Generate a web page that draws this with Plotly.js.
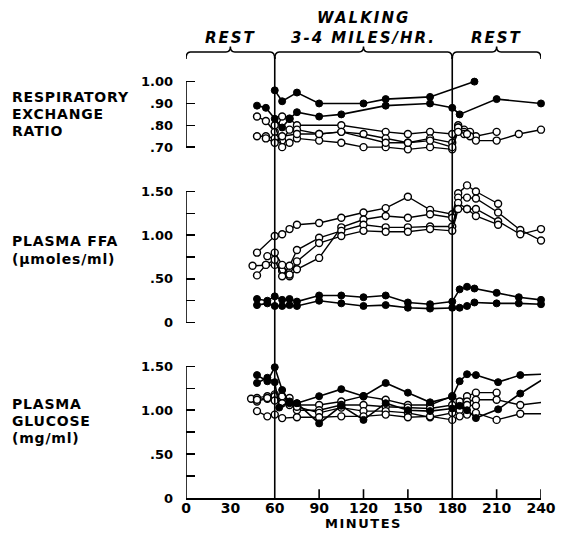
<!DOCTYPE html>
<html><head><meta charset="utf-8">
<script src="https://cdn.plot.ly/plotly-3.0.1.min.js"></script>
<style>html,body{margin:0;padding:0;background:#fff}#chart{width:561px;height:533px}</style>
</head><body><div id="chart"></div>
<script>
// ---------- DATA (minutes, values) ----------
// Respiratory exchange ratio
const rerFilledA_t = [60,65,75,90,120,135,165,195];
const rerFilledA_v = [0.96,0.91,0.95,0.90,0.90,0.92,0.93,1.00];
const rerFilledB_t = [48,54,60,65,70,75,90,105,135,165,180,185,210,240];
const rerFilledB_v = [0.89,0.88,0.83,0.79,0.83,0.86,0.84,0.85,0.89,0.90,0.88,0.85,0.92,0.90];
const rerOpenA_t = [48,54,60,65,70,75,105,135,150,165,180,184,188,192,196,210];
const rerOpenA_v = [0.84,0.82,0.77,0.84,0.83,0.80,0.80,0.77,0.76,0.77,0.76,0.80,0.78,0.77,0.75,0.77];
const rerOpenB_t = [48,54,60,65,70,75,90,105,120,135,150,165,180,184,188,196,210,225,240];
const rerOpenB_v = [0.75,0.75,0.74,0.73,0.78,0.78,0.76,0.77,0.76,0.74,0.72,0.74,0.72,0.79,0.77,0.73,0.73,0.76,0.78];
const rerOpenC_t = [60,65,70,75,90,105,120,135,150,165,180,184,188,192];
const rerOpenC_v = [0.80,0.70,0.72,0.74,0.73,0.72,0.70,0.70,0.69,0.70,0.69,0.79,0.76,0.75];
const rerOpenD_t = [54,60,65,75,90,105,135,150,165,180,184,190];
const rerOpenD_v = [0.74,0.72,0.75,0.76,0.76,0.77,0.72,0.72,0.73,0.70,0.77,0.76];

// Plasma FFA (umoles/ml)
const ffaOpenA_t = [48,60,65,70,75,90,105,120,135,150,165,180,184,190,196,211];
const ffaOpenA_v = [0.80,0.99,1.01,1.07,1.12,1.14,1.20,1.26,1.31,1.44,1.29,1.24,1.48,1.57,1.50,1.36];
const ffaOpenB_t = [45,54,60,65,70,75,90,105,120,135,150,165,180,184,190,196,211,226,240];
const ffaOpenB_v = [0.65,0.66,0.66,0.59,0.53,0.61,0.74,1.09,1.18,1.22,1.20,1.24,1.20,1.43,1.43,1.42,1.26,1.06,0.94];
const ffaOpenC_t = [48,54,60,65,70,75,90,105,120,135,150,165,180,184,190,196,211,226,240];
const ffaOpenC_v = [0.54,0.66,0.72,0.53,0.65,0.83,0.97,1.05,1.12,1.09,1.09,1.10,1.10,1.37,1.30,1.30,1.16,1.01,1.07];
const ffaOpenD_t = [55,60,65,70,75,90,105,120,135,150,165,180,184,190,196,211];
const ffaOpenD_v = [0.76,0.80,0.66,0.55,0.70,0.91,0.99,1.05,1.04,1.04,1.07,1.05,1.30,1.30,1.22,1.12];
const ffaFilled_t = [48,55,60,65,70,75,90,105,120,135,150,165,180,185,190,195,210,225,240];
const ffaFilledA_v = [0.27,0.25,0.30,0.26,0.27,0.24,0.31,0.31,0.29,0.31,0.23,0.21,0.24,0.38,0.41,0.39,0.34,0.29,0.26];
const ffaFilledB_v = [0.20,0.22,0.19,0.19,0.20,0.19,0.25,0.22,0.19,0.20,0.17,0.16,0.17,0.17,0.19,0.23,0.22,0.22,0.21];

// Plasma glucose (mg/ml)
const gluFilledA_t = [48,55,60,65,70,75,90,105,120,135,150,165,180,185,190,196,211,226,241];
const gluFilledA_v = [1.40,1.33,1.49,1.23,1.08,1.08,1.16,1.24,1.16,1.31,1.20,1.09,1.15,1.33,1.41,1.40,1.32,1.40,1.41];
const gluFilledB_t = [48,55,60,63,70,75,90,105,120,135,150,165,180,185,190,196,211,226,241];
const gluFilledB_v = [1.31,1.37,1.32,1.03,1.10,1.08,0.85,1.05,0.89,1.08,1.00,0.99,1.02,1.05,1.00,0.91,1.01,1.19,1.35];
const gluOpenA_t = [44,48,55,60,65,70,75,90,105,120,135,150,165,180,185,190,196,210];
const gluOpenA_v = [1.13,1.14,1.16,1.18,1.14,1.10,1.06,1.06,1.10,1.16,1.12,1.06,1.06,1.16,1.10,1.16,1.20,1.20];
const gluOpenB_t = [48,55,60,65,70,75,90,105,120,135,150,165,180,185,190,196,210,226,241];
const gluOpenB_v = [1.10,1.13,1.16,1.16,1.14,1.00,1.00,1.06,1.06,1.04,1.03,1.02,1.06,1.03,1.10,1.12,1.12,1.06,1.09];
const gluOpenC_t = [48,55,60,65,70,75,90,105,120,135,150,165,180,185,190,196];
const gluOpenC_v = [1.12,1.14,1.11,1.08,1.06,1.04,0.97,1.03,0.99,0.99,0.97,0.92,0.97,1.00,1.06,1.05];
const gluOpenD_t = [48,55,60,65,75,90,105,120,135,150,165,180,185,190,196,210,226,241];
const gluOpenD_v = [0.99,0.93,0.95,0.91,0.92,0.92,0.93,0.93,0.95,0.92,0.93,0.89,0.93,0.95,0.97,0.89,0.96,0.96];

// Tick labels
const xTickVals = [0,30,60,90,120,150,180,210,240];
const xTickText = ['0','30','60','90','120','150','180','210','240'];
const rerTickVals = [0.70,0.80,0.90,1.00];
const rerTickText = ['.70','.80','.90','1.00'];
const concTickVals = [0,0.25,0.5,0.75,1.0,1.25,1.5];
const concTickText = ['0','','.50','','1.00','','1.50'];

// ---------- LAYOUT HELPERS ----------
const L = 186.3, R = 541, W = R - L, H = 498.5;
function px(x){ return (x - L) / W; }
function py(y){ return (H - y) / H; }
function dom(v0,p0,v1,p1,r0,r1){
  const k = (p0 - p1) / (v1 - v0);
  return [py(p0 + (v0 - r0) * k), py(p0 - (r1 - v0) * k)];
}

function filled(t, v, ax){
  return {x:t, y:v, yaxis:ax, type:'scatter', mode:'lines+markers',
    line:{color:'#000', width:1.6},
    marker:{color:'#000', size:7, line:{color:'#000', width:1}},
    cliponaxis:false, hoverinfo:'skip', showlegend:false};
}
function open(t, v, ax){
  return {x:t, y:v, yaxis:ax, type:'scatter', mode:'lines+markers',
    line:{color:'#000', width:1.4},
    marker:{color:'#fff', size:7, line:{color:'#000', width:1.4}},
    cliponaxis:false, hoverinfo:'skip', showlegend:false};
}

const traces = [
  open(rerOpenA_t, rerOpenA_v, 'y'), open(rerOpenB_t, rerOpenB_v, 'y'),
  open(rerOpenC_t, rerOpenC_v, 'y'), open(rerOpenD_t, rerOpenD_v, 'y'),
  filled(rerFilledA_t, rerFilledA_v, 'y'), filled(rerFilledB_t, rerFilledB_v, 'y'),
  open(ffaOpenA_t, ffaOpenA_v, 'y2'), open(ffaOpenB_t, ffaOpenB_v, 'y2'),
  open(ffaOpenC_t, ffaOpenC_v, 'y2'), open(ffaOpenD_t, ffaOpenD_v, 'y2'),
  filled(ffaFilled_t, ffaFilledA_v, 'y2'), filled(ffaFilled_t, ffaFilledB_v, 'y2'),
  open(gluOpenA_t, gluOpenA_v, 'y3'), open(gluOpenB_t, gluOpenB_v, 'y3'),
  open(gluOpenC_t, gluOpenC_v, 'y3'), open(gluOpenD_t, gluOpenD_v, 'y3'),
  filled(gluFilledA_t, gluFilledA_v, 'y3'), filled(gluFilledB_t, gluFilledB_v, 'y3')
];

const tickFont = {family:'DejaVu Sans', size:13, color:'#000', weight:'bold'};
function yax(domain, range, vals, text){
  return {domain:domain, range:range, anchor:'x', tickvals:vals, ticktext:text,
    ticks:'inside', ticklen:9, tickwidth:1.5, tickcolor:'#000',
    showline:false, showgrid:false, zeroline:false, fixedrange:true,
    tickfont:tickFont, ticklabelstandoff:12};
}

const lineStyle = {color:'#000', width:1.6};
const shapes = [
  {type:'line', xref:'x', yref:'y', x0:0, x1:0, y0:0.70, y1:1.00, line:lineStyle},
  {type:'line', xref:'x', yref:'y2', x0:0, x1:0, y0:0, y1:1.5, line:lineStyle},
  {type:'line', xref:'x', yref:'y3', x0:0, x1:0, y0:0, y1:1.5, line:lineStyle},
  {type:'line', xref:'x', yref:'paper', x0:60, x1:60, y0:0, y1:py(57), line:lineStyle},
  {type:'line', xref:'x', yref:'paper', x0:180, x1:180, y0:0, y1:py(57), line:lineStyle}
];
[90,120,150,210,240].forEach(function(t){
  shapes.push({type:'line', xref:'x', yref:'y3', x0:t, x1:t, y0:0, y1:0.1, line:lineStyle});
});
function brace(x0, x1){
  const xm = (x0 + x1) / 2, d = 3;
  const ya = py(59), yb = py(52), yc = py(46.5);
  const p = 'M ' + x0 + ',' + ya + ' Q ' + x0 + ',' + yb + ' ' + (x0 + d) + ',' + yb +
    ' L ' + (xm - d) + ',' + yb + ' Q ' + xm + ',' + yb + ' ' + xm + ',' + yc +
    ' Q ' + xm + ',' + yb + ' ' + (xm + d) + ',' + yb +
    ' L ' + (x1 - d) + ',' + yb + ' Q ' + x1 + ',' + yb + ' ' + x1 + ',' + ya;
  return {type:'path', xref:'x', yref:'paper', path:p, line:{color:'#000', width:1.5}};
}
shapes.push(brace(0,60), brace(60,180), brace(180,240));

const headFont = {family:'DejaVu Sans', size:15, color:'#000', weight:'bold', style:'italic'};
const labFont = {family:'DejaVu Sans', size:14, color:'#000', weight:'bold'};
function sp(s, ls){ return '<span style="letter-spacing:' + ls + 'px">' + s + '</span>'; }
function head(t, x, y){ return {text:sp(t,2), xref:'x', yref:'paper', x:x, y:py(y), showarrow:false, xanchor:'center', yanchor:'middle', font:headFont}; }
function lab(t, y){ return {text:sp(t,0.8), xref:'paper', yref:'paper', x:px(10), y:py(y), showarrow:false, xanchor:'left', yanchor:'middle', font:labFont}; }

const annotations = [
  head('REST', 30, 38), head('WALKING', 120, 18), head('3-4 MILES/HR.', 120, 38), head('REST', 210, 38),
  lab('RESPIRATORY', 97), lab('EXCHANGE', 114), lab('RATIO', 131),
  lab('PLASMA FFA', 241), lab('(μmoles/ml)', 259),
  lab('PLASMA', 404), lab('GLUCOSE', 421), lab('(mg/ml)', 438)
];

const layout = {
  width:561, height:533,
  margin:{l:L, r:561 - R, t:0, b:533 - H},
  paper_bgcolor:'#fff', plot_bgcolor:'rgba(0,0,0,0)',
  showlegend:false,
  xaxis:{range:[0,240], domain:[0,1], anchor:'y3', showline:true, linecolor:'#000', linewidth:1.6,
    ticks:'', tickvals:xTickVals, ticktext:xTickText, tickfont:{family:'DejaVu Sans', size:14, color:'#000', weight:'bold'},
    showgrid:false, zeroline:false, fixedrange:true, automargin:false, ticklabelstandoff:-3,
    title:{text:sp('MINUTES',1.5), font:{family:'DejaVu Sans', size:13, color:'#000', weight:'bold'}, standoff:3}},
  yaxis: yax(dom(0.70,147.3,1.00,81.7,0.66,1.03), [0.66,1.03], rerTickVals, rerTickText),
  yaxis2: yax(dom(0,322.9,1.5,191.7,-0.06,1.62), [-0.06,1.62], concTickVals, concTickText),
  yaxis3: yax(dom(0,498.5,1.5,366.7,0,1.62), [0,1.62], concTickVals, concTickText),
  shapes:shapes, annotations:annotations
};

Plotly.newPlot('chart', traces, layout, {displayModeBar:false, staticPlot:true});
</script></body></html>
